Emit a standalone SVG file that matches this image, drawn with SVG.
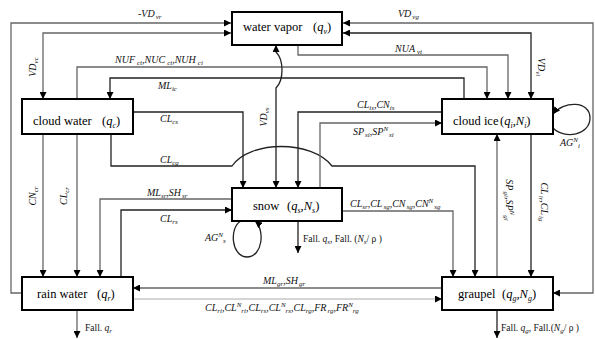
<svg xmlns="http://www.w3.org/2000/svg" width="595" height="339" viewBox="0 0 595 339">
<style>
.box{fill:#fff;stroke:#000;stroke-width:2}
.c{fill:none;stroke-width:1.3}
.k{stroke:#222}
.g{stroke:#666}
.lg{stroke:#aaa;stroke-width:1}
.a{marker-end:url(#ah)}
.b{marker-start:url(#ah);marker-end:url(#ah)}
.nt{font-family:"Liberation Serif",serif;font-size:12.5px;fill:#000}
.ns{font-size:8px;font-style:italic}
.i{font-style:italic}
.l{font-family:"Liberation Serif",serif;font-style:italic;font-size:10px;fill:#111}
.s{font-size:7px}
.f{font-family:"Liberation Serif",serif;font-size:9.5px;fill:#111}
</style>
<defs>
<marker id="ah" viewBox="0 0 10 10" refX="10" refY="5" markerWidth="7" markerHeight="7" markerUnits="userSpaceOnUse" orient="auto-start-reverse"><path d="M0,0L10,5L0,10z" fill="#000"/></marker>
</defs>
<g id="connectors">
<path class="c g a" d="M22,293H11V23H231"/>
<path class="c g b" d="M231,33H43V99"/>
<path class="c g b" d="M343,23H593V293H553"/>
<path class="c k b" d="M343,33H531V99"/>
<path class="c g a" d="M298,45V55H508V99"/>
<path class="c g a" d="M77,99V67H487V99"/>
<path class="c k a" d="M464,99V78H110V99"/>
<path class="c k b" d="M276,188V88C284,80 284,60 276,52V45"/>
<path class="c k a" d="M133,112H243V188"/>
<path class="c k a" d="M111,134V166H232C250,140 312,140 332,166H475V277"/>
<path class="c k a" d="M442,112H298V188"/>
<path class="c g a" d="M320,188V123H442"/>
<path class="c g a" d="M232,199H100V277"/>
<path class="c k a" d="M121,277V210H232"/>
<path class="c g a" d="M43,134V277"/>
<path class="c g a" d="M77,134V277"/>
<path class="c g a" d="M342,211H453V277"/>
<path class="c g a" d="M497,277V134"/>
<path class="c k a" d="M531,134V277"/>
<path class="c g a" d="M442,288H133"/>
<path class="c lg a" d="M133,299H442"/>
<path class="c g a" d="M77,310V338"/>
<path class="c k a" d="M298,221V253"/>
<path class="c k a" d="M497,310V338"/>
<path class="c k a" d="M241,221C229,227 231,257 247,257C263,257 265,229 255,221"/>
<path class="c k a" d="M553,128C565,140 590,135 590,118C590,100 563,101 553,114"/>
</g>
<g id="water_vapor">
<rect class="box" x="232" y="12" width="110" height="33"/>
<text class="nt" x="243" y="31">water vapor<tspan x="313">(</tspan><tspan class="i">q</tspan><tspan class="ns" dy="3">v</tspan><tspan dy="-3">)</tspan></text>
</g>
<g id="cloud_water">
<rect class="box" x="22" y="99" width="111" height="35"/>
<text class="nt" x="33" y="125">cloud water<tspan x="102">(</tspan><tspan class="i">q</tspan><tspan class="ns" dy="3">c</tspan><tspan dy="-3">)</tspan></text>
</g>
<g id="cloud_ice">
<rect class="box" x="442" y="99" width="111" height="35"/>
<text class="nt" x="453" y="125">cloud ice<tspan x="500">(</tspan><tspan class="i">q</tspan><tspan class="ns" dy="3">i</tspan><tspan dy="-3">,</tspan><tspan class="i">N</tspan><tspan class="ns" dy="3">i</tspan><tspan dy="-3">)</tspan></text>
</g>
<g id="snow">
<rect class="box" x="232" y="188" width="110" height="33"/>
<text class="nt" x="253" y="210">snow<tspan x="287">(</tspan><tspan class="i">q</tspan><tspan class="ns" dy="3">s</tspan><tspan dy="-3">,</tspan><tspan class="i">N</tspan><tspan class="ns" dy="3">s</tspan><tspan dy="-3">)</tspan></text>
</g>
<g id="rain_water">
<rect class="box" x="22" y="277" width="111" height="33"/>
<text class="nt" x="37" y="298">rain water<tspan x="97">(</tspan><tspan class="i">q</tspan><tspan class="ns" dy="3">r</tspan><tspan dy="-3">)</tspan></text>
</g>
<g id="graupel">
<rect class="box" x="442" y="277" width="111" height="33"/>
<text class="nt" x="458" y="298">graupel<tspan x="502">(</tspan><tspan class="i">q</tspan><tspan class="ns" dy="3">g</tspan><tspan dy="-3">,</tspan><tspan class="i">N</tspan><tspan class="ns" dy="3">g</tspan><tspan dy="-3">)</tspan></text>
</g>
<g id="labels">
<text class="l" x="138" y="17">-VD<tspan class="s" dx="1" dy="2">vr</tspan></text>
<text class="l" x="398" y="17">VD<tspan class="s" dx="1" dy="2">vg</tspan></text>
<text class="l" x="395" y="52">NUA<tspan class="s" dx="2" dy="2">vi</tspan></text>
<text class="l" x="115" y="63">NUF<tspan class="s" dx="2" dy="2">ci</tspan><tspan dy="-2">,NUC</tspan><tspan class="s" dx="2" dy="2">ci</tspan><tspan dy="-2">,NUH</tspan><tspan class="s" dx="2" dy="2">ci</tspan></text>
<text class="l" x="158" y="89">ML<tspan class="s" dy="2">ic</tspan></text>
<text class="l" x="357" y="108">CL<tspan class="s" dy="2">is</tspan><tspan dy="-2">,CN</tspan><tspan class="s" dy="2">is</tspan></text>
<text class="l" x="353" y="135">SP<tspan class="s" dx="1" dy="2">si</tspan><tspan dy="-2">,SP</tspan><tspan class="s" dy="-4">N</tspan><tspan class="s" dx="1" dy="6">si</tspan></text>
<text class="l" x="160" y="122">CL<tspan class="s" dy="2">cs</tspan></text>
<text class="l" x="160" y="163">CL<tspan class="s" dy="2">cg</tspan></text>
<text class="l" x="147" y="196">ML<tspan class="s" dy="2">sr</tspan><tspan dy="-2">,SH</tspan><tspan class="s" dx="1" dy="2">sr</tspan></text>
<text class="l" x="160" y="222">CL<tspan class="s" dy="2">rs</tspan></text>
<text class="l" x="350" y="207">CL<tspan class="s" dy="2">sr</tspan><tspan dy="-2">,CL</tspan><tspan class="s" dx="1" dy="2">sg</tspan><tspan dy="-2">,CN</tspan><tspan class="s" dx="1" dy="2">sg</tspan><tspan dy="-2">,CN</tspan><tspan class="s" dy="-4">N</tspan><tspan class="s" dx="1" dy="6">sg</tspan></text>
<text class="l" x="263" y="284">ML<tspan class="s" dy="2">gr</tspan><tspan dy="-2">,SH</tspan><tspan class="s" dx="1" dy="2">gr</tspan></text>
<text class="l" x="205" y="311">CL<tspan class="s" dy="2">ri</tspan><tspan dy="-2">,CL</tspan><tspan class="s" dy="-4">N</tspan><tspan class="s" dy="6">ri</tspan><tspan dy="-2">,CL</tspan><tspan class="s" dy="2">rs</tspan><tspan dy="-2">,CL</tspan><tspan class="s" dy="-4">N</tspan><tspan class="s" dy="6">rs</tspan><tspan dy="-2">,CL</tspan><tspan class="s" dy="2">rg</tspan><tspan dy="-2">,FR</tspan><tspan class="s" dx="1" dy="2">rg</tspan><tspan dy="-2">,FR</tspan><tspan class="s" dy="-4">N</tspan><tspan class="s" dy="6">rg</tspan></text>
<text class="l" x="560" y="146">AG<tspan class="s" dy="-4">N</tspan><tspan class="s" dy="6">i</tspan></text>
<text class="l" x="205" y="241">AG<tspan class="s" dy="-4">N</tspan><tspan class="s" dy="6">s</tspan></text>
<text class="l" transform="translate(36,67) rotate(-90)" text-anchor="middle">VD<tspan class="s" dy="2">vc</tspan></text>
<text class="l" transform="translate(538,67) rotate(90)" text-anchor="middle">VD<tspan class="s" dy="2">vi</tspan></text>
<text class="l" transform="translate(267,117) rotate(-90)" text-anchor="middle">VD<tspan class="s" dy="2">vs</tspan></text>
<text class="l" transform="translate(36,196) rotate(-90)" text-anchor="middle">CN<tspan class="s" dy="2">cr</tspan></text>
<text class="l" transform="translate(67,196) rotate(-90)" text-anchor="middle">CL<tspan class="s" dy="2">cr</tspan></text>
<text class="l" transform="translate(506,200) rotate(90)" text-anchor="middle">SP<tspan class="s" dx="1" dy="2">gi</tspan><tspan dy="-2">,SP</tspan><tspan class="s" dy="-4">N</tspan><tspan class="s" dy="6">gi</tspan></text>
<text class="l" transform="translate(541,202) rotate(90)" text-anchor="middle">CL<tspan class="s" dx="1" dy="2">ir</tspan><tspan dy="-2">,CL</tspan><tspan class="s" dx="1" dy="2">ig</tspan></text>
<text class="f" x="85" y="331">Fall. <tspan class="i">q</tspan><tspan class="s i" dy="2">r</tspan></text>
<text class="f" x="303" y="242">Fall. <tspan class="i">q</tspan><tspan class="s i" dy="2">s</tspan><tspan dy="-2">, Fall. (</tspan><tspan class="i">N</tspan><tspan class="s i" dy="2">s</tspan><tspan dy="-2">/ ρ )</tspan></text>
<text class="f" x="501" y="331">Fall. <tspan class="i">q</tspan><tspan class="s i" dy="2">g</tspan><tspan dy="-2">, Fall.(</tspan><tspan class="i">N</tspan><tspan class="s i" dy="2">g</tspan><tspan dy="-2">/ ρ )</tspan></text>
</g>
</svg>
